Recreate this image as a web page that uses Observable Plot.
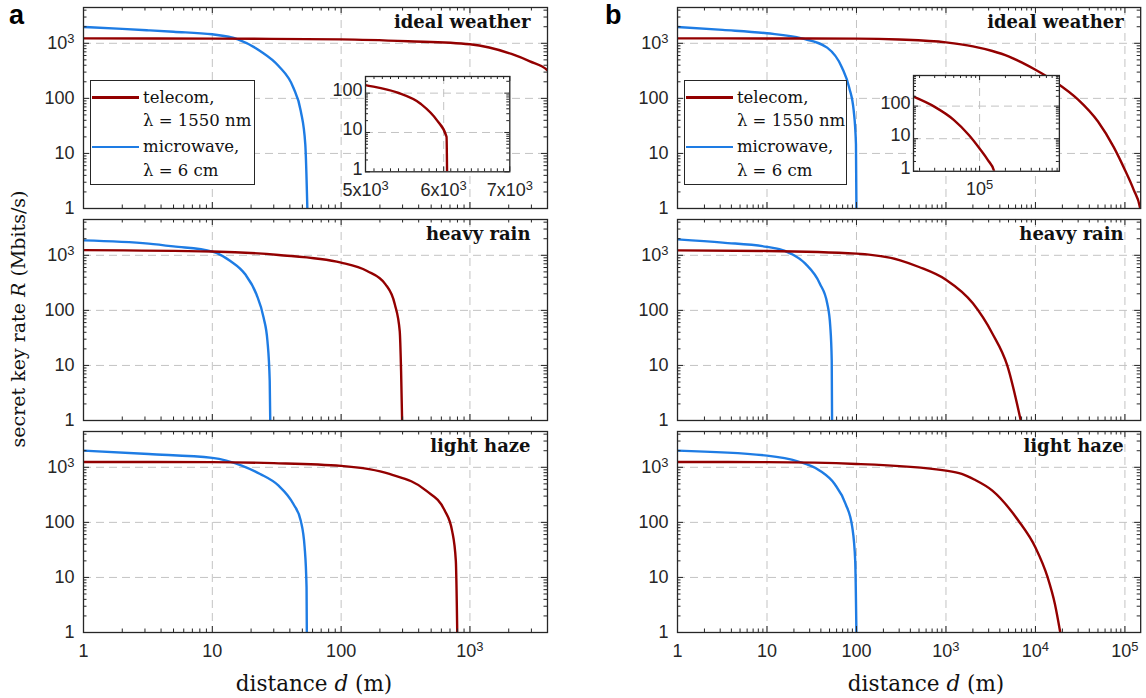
<!DOCTYPE html>
<html><head><meta charset="utf-8">
<script src="https://cdn.jsdelivr.net/npm/d3@7"></script>
<script src="https://cdn.jsdelivr.net/npm/@observablehq/plot@0.6"></script>
<style>
html,body{margin:0;padding:0;background:#fff;}
#fig{position:relative;width:1146px;height:698px;overflow:hidden;background:#fff;}
#fig > *{position:absolute;}
</style></head><body><div id="fig"></div>
<script>
// ---------------- data ----------------
// panel a : ideal weather
const aIdealTelD = [1, 10, 100, 330, 1000, 1410, 2100, 2920, 4000, 5000, 5380, 5690, 5910, 6040, 6048];
const aIdealTelR = [1230, 1215, 1180, 1090, 960, 840, 640, 470, 323, 160, 104, 53, 20, 7.8, 0.8];
const aIdealMicD = [1, 2, 3.2, 5, 10, 15.8, 23.5, 32.7, 42.6, 48.6, 52.7, 54.8];
const aIdealMicR = [1980, 1830, 1720, 1620, 1457, 1180, 727, 387, 156, 59, 14.6, 0.8];
// panel a : heavy rain
const aRainTelD = [1, 10, 32.7, 100, 159, 221, 261, 285, 292, 298];
const aRainTelR = [1240, 1170, 1015, 737, 519, 297, 129, 42, 8, 0.8];
const aRainMicD = [1, 3.2, 5, 10, 13.8, 18, 22, 25, 26.8, 27.9, 28.2];
const aRainMicR = [1870, 1630, 1450, 1166, 789, 452, 196, 74, 27.5, 5.2, 0.8];
// panel a : light haze
const aHazeTelD = [1, 10, 30, 100, 237, 457, 637, 727, 777, 798];
const aHazeTelR = [1250, 1240, 1190, 1060, 757, 377, 164, 70, 20, 0.8];
const aHazeMicD = [1, 3.2, 10, 16.9, 23.5, 32.7, 42.6, 48.6, 52.1, 53.9, 54.2];
const aHazeMicR = [2010, 1740, 1480, 1072, 756, 464, 215, 107, 35, 6.6, 0.8];
// panel b : ideal weather
const bIdealTelD = [1, 10, 100, 300, 1000, 2000, 3300, 5000, 7000, 10000, 17000, 30000, 50000, 75000, 100000, 125000, 148000, 152000];
const bIdealTelR = [1230, 1225, 1215, 1170, 1040, 880, 725, 580, 450, 330, 195, 95, 38, 13, 5, 2.2, 1, 0.7];
const bIdealMicD = [1, 3.2, 10, 24.4, 47, 69, 83, 93.2, 98.7, 100];
const bIdealMicR = [1980, 1750, 1520, 1230, 834, 360, 156, 59, 14.6, 0.8];
// panel b : heavy rain
const bRainTelD = [1, 10, 100, 308, 500, 1000, 2000, 3300, 4840, 7060];
const bRainTelR = [1230, 1200, 1072, 811, 613, 360, 134, 38, 10, 0.8];
const bRainMicD = [1, 3.2, 10, 15.9, 26.8, 39, 47.2, 51, 52.9, 53.4];
const bRainMicR = [1950, 1700, 1420, 1200, 705, 305, 132, 50, 12.3, 0.8];
// panel b : light haze
const bHazeTelD = [1, 10, 100, 1000, 1500, 2070, 3300, 6460, 10000, 13700, 16500, 19400];
const bHazeTelR = [1250, 1240, 1150, 870, 760, 600, 377, 107, 35, 10, 3.3, 0.8];
const bHazeMicD = [1, 10, 22, 39, 57, 75.7, 89.8, 96.8, 100];
const bHazeMicR = [2010, 1630, 1285, 869, 497, 215, 81, 20, 0.8];

// tick labels
const yTickVals = [1, 10, 100, 1000];
const yTickText = ["1", "10", "100", "10^3"];
const xTickValsA = [1, 10, 100, 1000];
const xTickTextA = ["1", "10", "100", "10^3"];
const xTickValsB = [1, 10, 100, 1000, 10000, 100000];
const xTickTextB = ["1", "10", "100", "10^3", "10^4", "10^5"];
const insetAXVals = [5000, 6000, 7000];
const insetAXText = ["5x10^3", "6x10^3", "7x10^3"];
const insetBXVals = [100000];
const insetBXText = ["10^5"];
const insetYVals = [1, 10, 100];
const insetYText = ["1", "10", "100"];

const titles = ["ideal weather", "heavy rain", "light haze"];
const seriesNames = ["telecom,", "microwave,"];
const seriesSub = ["λ = 1550 nm", "λ = 6 cm"];

// ---------------- style ----------------
const RED = "#930000", BLUE = "#1e7ce4", INK = "#262626", GRID = "#c3c3c3";
const SERIF = "'DejaVu Serif', 'Liberation Serif', serif";
const SANS = "'Liberation Sans', Arial, sans-serif";

const rows = (D, R) => D.map((d, i) => ({d, r: R[i]}));
const fig = document.getElementById("fig");

function logTicks(lo, hi) {
  const major = [], minor = [];
  for (let e = Math.floor(Math.log10(lo)); e <= Math.ceil(Math.log10(hi)); e++) {
    for (let k = 1; k < 10; k++) {
      const v = k * 10 ** e;
      if (v < lo * 0.9999 || v > hi * 1.0001) continue;
      (k === 1 ? major : minor).push(v);
    }
  }
  return {major, minor};
}

function addSup(svg) {
  svg.querySelectorAll("text").forEach(t => {
    if (t.children.length) return;
    const m = t.textContent.match(/^(.*?)10\^(\d+)$/);
    if (!m) return;
    t.textContent = "";
    t.appendChild(document.createTextNode(m[1] + "10"));
    const ts = document.createElementNS("http://www.w3.org/2000/svg", "tspan");
    ts.setAttribute("dy", "-0.45em");
    ts.setAttribute("font-size", "0.72em");
    ts.textContent = m[2];
    t.appendChild(ts);
  });
}

function tickRules(xMaj, xMin, Y, w, h, maj, min) {
  const s = {stroke: INK, strokeWidth: 1};
  return [
    Plot.ruleX(xMaj, {...s, insetTop: h - maj}),
    Plot.ruleX(xMaj, {...s, insetBottom: h - maj}),
    Plot.ruleX(xMin, {...s, insetTop: h - min}),
    Plot.ruleX(xMin, {...s, insetBottom: h - min}),
    Plot.ruleY(Y.major, {...s, insetRight: w - maj}),
    Plot.ruleY(Y.major, {...s, insetLeft: w - maj}),
    Plot.ruleY(Y.minor, {...s, insetRight: w - min}),
    Plot.ruleY(Y.minor, {...s, insetLeft: w - min}),
  ];
}

function drawPlot(o) {
  const {left, top, w, h, xDom, yDom, series, title, xVals, xText, yVals, yText,
         inset, gridX, gridY, xMinor, xMajor, yPad, xPad, yDy, maj, min} = o;
  const mL = 75, mR = 35, mT = 10, mB = 45;
  const X = logTicks(xDom[0], xDom[1]);
  const Y = logTicks(yDom[0], yDom[1]);
  const marks = [];
  if (inset) marks.push(Plot.frame({fill: "white", stroke: "none"}));
  marks.push(Plot.ruleX(gridX, {stroke: GRID, strokeDasharray: "8,5", strokeWidth: 1}));
  marks.push(Plot.ruleY(gridY, {stroke: GRID, strokeDasharray: "8,5", strokeWidth: 1}));
  for (const s of series) {
    marks.push(Plot.line(s.data, {x: "d", y: "r", stroke: s.color, strokeWidth: 2.4, curve: "monotone-x", clip: true}));
  }
  marks.push(...tickRules(xMajor || X.major, xMinor || X.minor, Y, w, h, maj, min));
  marks.push(Plot.frame({stroke: INK, strokeWidth: 1.3}));
  marks.push(Plot.text(yVals, {y: d => d, text: (d, i) => yText[i], frameAnchor: "left", dx: -yPad, dy: yDy || 0,
      textAnchor: "end", lineAnchor: "middle", fill: INK, fontSize: 18}));
  if (xVals) marks.push(Plot.text(xVals, {x: d => d, text: (d, i) => xText[i], frameAnchor: "bottom", dy: xPad,
      textAnchor: "middle", lineAnchor: "top", fill: INK, fontSize: 18}));
  if (title) marks.push(Plot.text([title], {frameAnchor: "top-right", dx: -17, dy: 14.5, lineAnchor: "middle", textAnchor: "end",
      fontFamily: SERIF, fontWeight: "bold", fontSize: 18, fill: "#111"}));
  const svg = Plot.plot({
    width: mL + w + mR, height: mT + h + mB,
    marginLeft: mL, marginRight: mR, marginTop: mT, marginBottom: mB,
    x: {type: "log", domain: xDom, axis: null},
    y: {type: "log", domain: yDom, axis: null},
    style: {background: "transparent", overflow: "visible", fontFamily: SANS, fontSize: "18px", color: INK},
    marks
  });
  addSup(svg);
  svg.style.left = (left - mL) + "px";
  svg.style.top = (top - mT) + "px";
  svg.style.maxWidth = "none";
  fig.appendChild(svg);
}

const colA = {left: 83, w: 464, xDom: [1, 4000], xVals: xTickValsA, xText: xTickTextA};
const colB = {left: 677.3, w: 463.2, xDom: [1, 150000], xVals: xTickValsB, xText: xTickTextB};
const rowTops = [6.7, 219, 431];
const H = 201;
const yDom = [1, 4470];

const panelSeries = [
  [[aIdealTelD, aIdealTelR, aIdealMicD, aIdealMicR], [aRainTelD, aRainTelR, aRainMicD, aRainMicR], [aHazeTelD, aHazeTelR, aHazeMicD, aHazeMicR]],
  [[bIdealTelD, bIdealTelR, bIdealMicD, bIdealMicR], [bRainTelD, bRainTelR, bRainMicD, bRainMicR], [bHazeTelD, bHazeTelR, bHazeMicD, bHazeMicR]]
];

[colA, colB].forEach((col, ci) => {
  rowTops.forEach((top, ri) => {
    const [td, tr, md, mr] = panelSeries[ci][ri];
    const X = logTicks(col.xDom[0], col.xDom[1]);
    drawPlot({
      left: col.left, top, w: col.w, h: H, xDom: col.xDom, yDom,
      series: [{data: rows(md, mr), color: BLUE}, {data: rows(td, tr), color: RED}],
      title: titles[ri],
      xVals: ri === 2 ? col.xVals : null, xText: col.xText,
      yVals: yTickVals, yText: yTickText,
      gridX: X.major.filter(v => v > col.xDom[0] * 1.01 && v < col.xDom[1] * 0.99),
      gridY: [10, 100, 1000],
      yPad: 9, xPad: 12, maj: 6, min: 3.5
    });
  });
});

// legends
function legend(x, y, w, h) {
  const div = document.createElement("div");
  div.style.cssText = `left:${x}px;top:${y}px;width:${w}px;height:${h}px;border:1px solid ${INK};background:#fff;box-sizing:border-box;font-family:${SERIF};font-size:16.5px;color:#111;`;
  const cols = [RED, BLUE];
  const lineY = [16.7, 66];
  const subY = [40, 90];
  seriesNames.forEach((name, i) => {
    const ln = document.createElement("div");
    ln.style.cssText = `position:absolute;left:1px;top:${lineY[i] - 1.3}px;width:47px;height:2.6px;background:${cols[i]};`;
    div.appendChild(ln);
    const t1 = document.createElement("div");
    t1.textContent = name;
    t1.style.cssText = `position:absolute;left:52px;top:${lineY[i] - 12}px;line-height:24px;white-space:nowrap;`;
    div.appendChild(t1);
    const t2 = document.createElement("div");
    t2.textContent = seriesSub[i];
    t2.style.cssText = `position:absolute;left:52px;top:${subY[i] - 12}px;line-height:24px;white-space:nowrap;`;
    div.appendChild(t2);
  });
  fig.appendChild(div);
}
legend(90, 80, 164.5, 105);
legend(683.9, 80, 163.5, 105);

// insets
drawPlot({
  left: 365, top: 75.7, w: 144.3, h: 95.3, xDom: [5000, 7000], yDom: [1, 265],
  series: [{data: rows(aIdealTelD, aIdealTelR), color: RED}],
  xVals: insetAXVals, xText: insetAXText, yVals: insetYVals, yText: insetYText,
  inset: true, gridX: [6000], gridY: [10, 100],
  xMajor: [5000, 6000, 7000],
  xMinor: d3.range(5100, 7000, 100).filter(v => v !== 6000),
  yPad: 3, yDy: -3, xPad: 11, maj: 5, min: 3
});
drawPlot({
  left: 912.7, top: 74.7, w: 145.9, h: 95.8, xDom: [17000, 850000], yDom: [1, 870],
  series: [{data: rows(bIdealTelD, bIdealTelR), color: RED}],
  xVals: insetBXVals, xText: insetBXText, yVals: insetYVals, yText: insetYText,
  inset: true, gridX: [100000], gridY: [10, 100],
  yPad: 3, yDy: -3, xPad: 11, maj: 5, min: 3
});

// text labels
function label(html, x, y, css, rotate) {
  const d = document.createElement("div");
  d.innerHTML = html;
  d.style.cssText = `left:${x}px;top:${y}px;white-space:nowrap;transform:translate(-50%,-50%)${rotate ? " rotate(-90deg)" : ""};${css}`;
  fig.appendChild(d);
}
const panelLetter = (t, x) => {
  const d = document.createElement("div");
  d.textContent = t;
  d.style.cssText = `left:${x}px;top:0px;font-family:${SANS};font-weight:bold;font-size:27px;line-height:normal;color:#000;`;
  fig.appendChild(d);
};
panelLetter("a", 9);
panelLetter("b", 605);
label("secret key rate <i>R</i> (Mbits/s)", 18, 319, `font-family:${SERIF};font-size:19px;color:#111;`, true);
label("distance <i>d</i> (m)", 314, 683, `font-family:${SERIF};font-size:21.5px;color:#111;`);
label("distance <i>d</i> (m)", 926, 683, `font-family:${SERIF};font-size:21.5px;color:#111;`);
</script></body></html>
